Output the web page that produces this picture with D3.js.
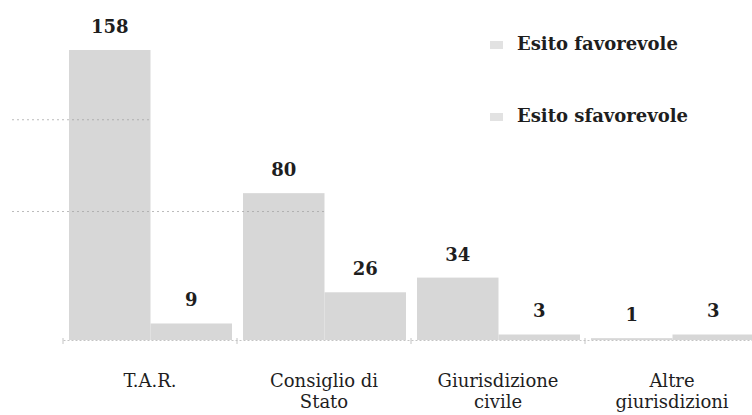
<!DOCTYPE html>
<html>
<head>
<meta charset="utf-8">
<script src="https://cdn.jsdelivr.net/npm/d3@7"></script>
<style>
  html, body { margin: 0; padding: 0; background: #fff; }
  svg { display: block; }
</style>
</head>
<body>
<svg id="chart" width="752" height="415"></svg>
<script>
const categories = [["T.A.R."], ["Consiglio di", "Stato"], ["Giurisdizione", "civile"], ["Altre", "giurisdizioni"]];
const seriesNames = ["Esito favorevole", "Esito sfavorevole"];
const favorevole = [158, 80, 34, 1];
const sfavorevole = [9, 26, 3, 3];
const gridValues = [70, 120];

const svg = d3.select("#chart");
const left = 63, right = 759, baseY = 340, topY = 50;
const barColor = "#d7d7d7";
const font = "'DejaVu Serif', 'Liberation Serif', serif";

const catKeys = categories.map(c => c.join(" "));
const series = [favorevole, sfavorevole];

const x0 = d3.scaleBand().domain(catKeys).range([left, right]).padding(0);
const x1 = d3.scaleBand().domain(seriesNames).range([6, x0.bandwidth() - 5]).padding(0);
const y = d3.scaleLinear().domain([0, d3.max(favorevole.concat(sfavorevole))]).range([baseY, topY]);

// bars
const rows = catKeys.map((k, i) => ({ key: k, vals: seriesNames.map((s, j) => ({ s, v: series[j][i] })) }));
const groups = svg.append("g").selectAll("g.cat").data(rows).join("g")
  .attr("transform", d => `translate(${x0(d.key)},0)`);
groups.selectAll("rect").data(d => d.vals).join("rect")
  .attr("x", d => x1(d.s))
  .attr("width", x1.bandwidth())
  .attr("y", d => y(d.v))
  .attr("height", d => baseY - y(d.v))
  .attr("fill", barColor);

// faint grid lines: visible from the left margin up to the last bar reaching them
const allBars = [];
rows.forEach(r => r.vals.forEach(b => allBars.push({ end: x0(r.key) + x1(b.s) + x1.bandwidth(), v: b.v })));
function gridEnd(gv) {
  const reach = allBars.filter(b => b.v >= gv);
  return reach.length ? d3.max(reach, b => b.end) : left;
}
svg.append("g").selectAll("line").data(gridValues).join("line")
  .attr("x1", 12).attr("x2", d => gridEnd(d))
  .attr("y1", d => y(d)).attr("y2", d => y(d))
  .attr("stroke", "#a0a0a0").attr("stroke-width", 1)
  .attr("stroke-dasharray", "2,3").attr("opacity", 0.7);

// baseline axis
const axis = d3.axisBottom(x0).tickSize(0).tickFormat("");
const ax = svg.append("g").attr("transform", `translate(0,${baseY})`).call(axis);
ax.select(".domain").attr("stroke", "#c4c4c4").attr("stroke-dasharray", "2,2");
svg.append("g").selectAll("line").data(catKeys).join("line")
  .attr("x1", d => x0(d)).attr("x2", d => x0(d))
  .attr("y1", baseY - 2).attr("y2", baseY + 4)
  .attr("stroke", "#c4c4c4");

// value labels
groups.selectAll("text.val").data(d => d.vals).join("text")
  .attr("class", "val")
  .attr("x", d => x1(d.s) + x1.bandwidth() / 2)
  .attr("y", d => y(d.v) - 17)
  .attr("text-anchor", "middle")
  .attr("font-family", font).attr("font-size", 18).attr("font-weight", "bold")
  .attr("fill", "#1e1e1e")
  .text(d => d.v);

// category labels
const cl = svg.append("g").selectAll("text").data(categories).join("text")
  .attr("x", (d, i) => x0(catKeys[i]) + x0.bandwidth() / 2)
  .attr("y", 387)
  .attr("text-anchor", "middle")
  .attr("font-family", font).attr("font-size", 18)
  .attr("fill", "#1e1e1e");
cl.selectAll("tspan").data(d => d).join("tspan")
  .attr("x", function () { return d3.select(this.parentNode).attr("x"); })
  .attr("dy", (d, i) => i === 0 ? 0 : 21)
  .text(d => d);

// legend
const leg = svg.append("g").selectAll("g").data(seriesNames).join("g")
  .attr("transform", (d, i) => `translate(490,${50 + i * 72})`);
leg.append("rect").attr("x", 0).attr("y", -9).attr("width", 13).attr("height", 8)
  .attr("fill", "#e2e2e2");
leg.append("text").attr("x", 27).attr("y", 0)
  .attr("font-family", font).attr("font-size", 18).attr("font-weight", "bold")
  .attr("fill", "#1e1e1e")
  .text(d => d);
</script>
</body>
</html>
